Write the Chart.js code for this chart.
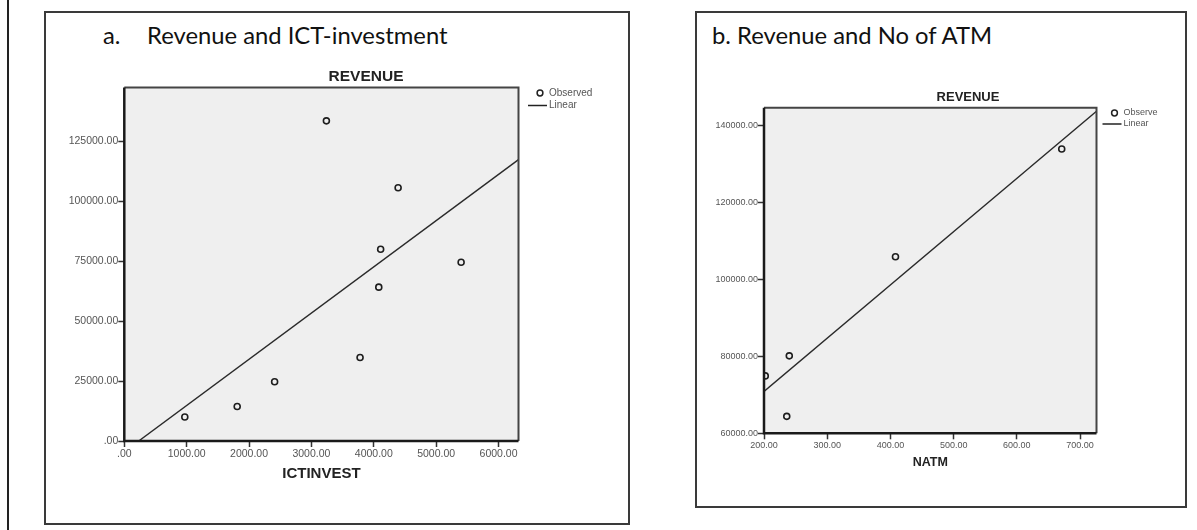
<!DOCTYPE html>
<html>
<head>
<meta charset="utf-8">
<script src="https://cdn.jsdelivr.net/npm/chart.js@4"></script>
<style>
  body { margin: 0; background: #fff; width: 1197px; height: 530px; position: relative; overflow: hidden; }
  .page-line { position: absolute; left: 7px; top: 0; width: 2px; height: 530px; background: #222; }
  .panel { position: absolute; border: 2px solid #3a3a3a; box-sizing: border-box; }
  .heading { position: absolute; font-family: Lato, "Open Sans", sans-serif; font-size: 23.8px; color: #111; line-height: 1; white-space: nowrap; }
  canvas { position: absolute; top: 0; }
</style>
</head>
<body>
<div class="page-line"></div>
<div class="panel" style="left:44px;top:11px;width:586px;height:514px"></div>
<div class="panel" style="left:695px;top:11px;width:492px;height:497px"></div>
<div class="heading" style="left:103px;top:24px">a.</div>
<div class="heading" style="left:147px;top:24px">Revenue and ICT-investment</div>
<div class="heading" style="left:712px;top:24px">b. Revenue and No of ATM</div>
<canvas id="chartA" width="640" height="530" style="left:0"></canvas>
<canvas id="chartB" width="557" height="530" style="left:640px"></canvas>

<script>
// panel a: revenue vs ICT investment
const ictInvest = [970, 1810, 2410, 3240, 3780, 4080, 4110, 4390, 5400];
const revenueA  = [10000, 14400, 24700, 133400, 34800, 64100, 79900, 105500, 74500];
const xTicksA = [0, 1000, 2000, 3000, 4000, 5000, 6000];
const yTicksA = [0, 25000, 50000, 75000, 100000, 125000];

// panel b: revenue vs number of ATMs
const natm     = [202, 240, 236, 408, 671];
const revenueB = [74900, 80100, 64400, 105800, 133800];
const xTicksB = [200, 300, 400, 500, 600, 700];
const yTicksB = [60000, 80000, 100000, 120000, 140000];

const FONT = "'Liberation Sans', Arial, sans-serif";

// least squares fit
function fit(xs, ys) {
  const n = xs.length;
  const mx = xs.reduce((a, b) => a + b, 0) / n;
  const my = ys.reduce((a, b) => a + b, 0) / n;
  let sxy = 0, sxx = 0;
  for (let i = 0; i < n; i++) {
    sxy += (xs[i] - mx) * (ys[i] - my);
    sxx += (xs[i] - mx) * (xs[i] - mx);
  }
  const m = sxy / sxx;
  return { m: m, b: my - m * mx };
}

function fmt(v) {
  return v === 0 ? ".00" : Number(v).toFixed(2);
}

const framePlugin = {
  id: "frame",
  beforeDraw(chart) {
    const a = chart.chartArea, ctx = chart.ctx;
    ctx.save();
    ctx.fillStyle = "#efefef";
    ctx.fillRect(a.left, a.top, a.right - a.left, a.bottom - a.top);
    ctx.restore();
  },
  afterDatasetsDraw(chart) {
    const a = chart.chartArea, ctx = chart.ctx;
    ctx.save();
    ctx.strokeStyle = "#444";
    ctx.lineWidth = 2;
    ctx.beginPath();
    ctx.moveTo(a.left, a.top);
    ctx.lineTo(a.right, a.top);
    ctx.lineTo(a.right, a.bottom);
    ctx.stroke();
    ctx.strokeStyle = "#1a1a1a";
    ctx.lineWidth = 2.5;
    ctx.beginPath();
    ctx.moveTo(a.left, a.top);
    ctx.lineTo(a.left, a.bottom);
    ctx.lineTo(a.right, a.bottom);
    ctx.stroke();
    ctx.restore();
  }
};

const spssLegend = {
  id: "spssLegend",
  afterDraw(chart, args, o) {
    const ctx = chart.ctx;
    ctx.save();
    ctx.fillStyle = "#222";
    ctx.font = "bold " + o.titleSize + "px " + FONT;
    ctx.textAlign = "center";
    ctx.textBaseline = "middle";
    ctx.fillText("REVENUE", o.titleX, o.titleY);

    ctx.strokeStyle = "#222";
    ctx.lineWidth = 1.5;
    ctx.beginPath();
    ctx.arc(o.x + 3, o.y, 2.9, 0, Math.PI * 2);
    ctx.stroke();
    ctx.beginPath();
    ctx.moveTo(o.x - 9, o.y + o.gap);
    ctx.lineTo(o.x + 10, o.y + o.gap);
    ctx.stroke();

    ctx.fillStyle = "#555";
    ctx.font = o.size + "px " + FONT;
    ctx.textAlign = "left";
    ctx.fillText(o.labels[0], o.x + 12, o.y);
    ctx.fillText(o.labels[1], o.x + 12, o.y + o.gap);
    ctx.restore();
  }
};

function makeChart(id, s) {
  const f = fit(s.xs, s.ys);
  const x0 = Math.max(s.xMin, (s.yMin - f.b) / f.m);
  const linePts = [
    { x: x0, y: f.m * x0 + f.b },
    { x: s.xMax, y: f.m * s.xMax + f.b }
  ];
  const points = s.xs.map((x, i) => ({ x: x, y: s.ys[i] }));

  const tickStyle = { drawOnChartArea: false, drawTicks: true, tickLength: 6, tickWidth: 1.5, tickColor: "#333" };

  new Chart(document.getElementById(id), {
    type: "scatter",
    data: {
      datasets: [
        {
          label: "Observed",
          data: points,
          pointRadius: 3,
          pointBorderWidth: 1.6,
          pointBorderColor: "#1e1e1e",
          pointBackgroundColor: "rgba(0,0,0,0)",
          showLine: false
        },
        {
          label: "Linear",
          type: "line",
          data: linePts,
          borderColor: "#2a2a2a",
          borderWidth: 1.4,
          pointRadius: 0,
          fill: false,
          clip: 0
        }
      ]
    },
    options: {
      responsive: false,
      animation: false,
      events: [],
      layout: { padding: s.pad },
      plugins: {
        legend: { display: false },
        tooltip: { enabled: false },
        spssLegend: s.legend
      },
      scales: {
        x: {
          type: "linear",
          min: s.xMin,
          max: s.xMax,
          afterBuildTicks: sc => { sc.ticks = s.xTicks.map(v => ({ value: v })); },
          afterFit: sc => { sc.height = s.xHeight; },
          grid: tickStyle,
          border: { display: false },
          ticks: { callback: fmt, font: { family: FONT, size: s.tickSize }, color: "#555", padding: 1, maxRotation: 0, autoSkip: false },
          title: { display: true, text: s.xTitle, font: { family: FONT, size: s.xTitleSize, weight: "bold" }, color: "#222", padding: 0 }
        },
        y: {
          type: "linear",
          min: s.yMin,
          max: s.yMax,
          afterBuildTicks: sc => { sc.ticks = s.yTicks.map(v => ({ value: v })); },
          afterFit: sc => { sc.width = 70; },
          grid: tickStyle,
          border: { display: false },
          ticks: { callback: fmt, font: { family: FONT, size: s.tickSize }, color: "#555", padding: 0, autoSkip: false }
        }
      }
    },
    plugins: [framePlugin, spssLegend]
  });
}

makeChart("chartA", {
  xs: ictInvest, ys: revenueA,
  xMin: 0, xMax: 6320, yMin: 0, yMax: 147300,
  xTicks: xTicksA, yTicks: yTicksA,
  xTitle: "ICTINVEST", xTitleSize: 15, xHeight: 41.6,
  tickSize: 10.5,
  pad: { left: 54.3, top: 87.5, right: 121.5, bottom: 47.4 },
  legend: { titleX: 366, titleY: 77, titleSize: 15.5, x: 537, y: 93, gap: 12.5, size: 10, labels: ["Observed", "Linear"] }
});

makeChart("chartB", {
  xs: natm, ys: revenueB,
  xMin: 200, xMax: 726, yMin: 60000, yMax: 144500,
  xTicks: xTicksB, yTicks: yTicksB,
  xTitle: "NATM", xTitleSize: 12.5, xHeight: 36.9,
  tickSize: 9,
  pad: { left: 54, top: 107.7, right: 100.5, bottom: 59.8 },
  legend: { titleX: 328, titleY: 97.5, titleSize: 13, x: 471.5, y: 113, gap: 11, size: 9, labels: ["Observe", "Linear"] }
});
</script>
</body>
</html>
